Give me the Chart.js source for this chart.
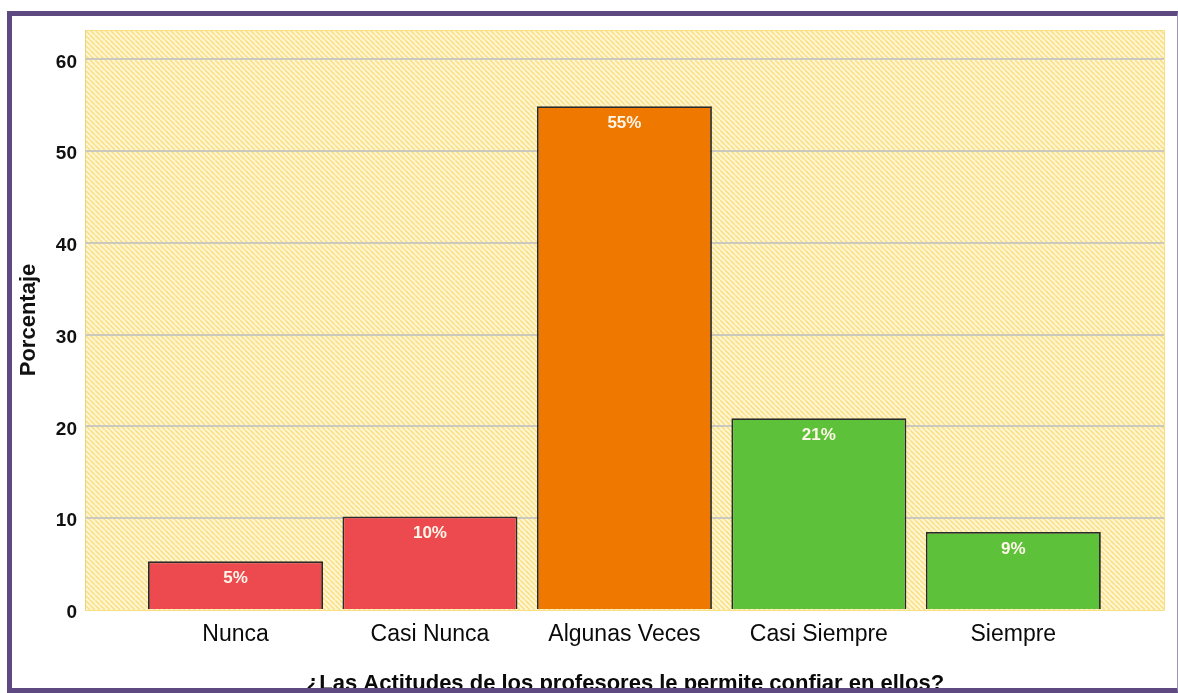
<!DOCTYPE html>
<html>
<head>
<meta charset="utf-8">
<script src="https://cdn.jsdelivr.net/npm/chart.js@4.4.0/dist/chart.umd.min.js"></script>
<style>
  body { margin: 0; background: #fff; }
  #wrap { position: relative; width: 1178px; height: 693px; overflow: hidden; }
  #frame { position: absolute; left: 7px; top: 11px; width: 1165px; height: 672px;
           border-left: 5px solid #5E4A80; border-top: 5px solid #5E4A80;
           border-bottom: 5px solid #5E4A80; border-right: 1px solid #9C93B0; pointer-events: none; }
  canvas { position: absolute; left: 0; top: 0; }
</style>
</head>
<body>
<div id="wrap">
  <canvas id="myChart" width="1178" height="693"></canvas>
  <div id="frame"></div>
</div>
<script>
var categories = ["Nunca", "Casi Nunca", "Algunas Veces", "Casi Siempre", "Siempre"];
var percentages = [5.3, 10.2, 54.9, 20.9, 8.5];
var valueLabels = ["5%", "10%", "55%", "21%", "9%"];
var barColors = ["#EC4A4F", "#EC4A4F", "#EE7800", "#5DC23A", "#5DC23A"];
var yTicks = [0, 10, 20, 30, 40, 50, 60];

var sans = "'Liberation Sans', Arial, sans-serif";

// hatched yellow background of the plot
function makeHatch() {
    var s = 5;
    var c = document.createElement("canvas");
    c.width = s; c.height = s;
    var g = c.getContext("2d");
    g.fillStyle = "#FFF7D6";
    g.fillRect(0, 0, s, s);
    g.strokeStyle = "#FBE08A";
    g.lineWidth = 1.7;
    for (var i = -1; i <= 1; i++) {
        g.beginPath();
        g.moveTo(i * s, 0);
        g.lineTo(i * s + s, s);
        g.stroke();
    }
    return g.createPattern(c, "repeat");
}

const hatchBg = {
    id: "hatchBg",
    beforeDraw(chart) {
        const a = chart.chartArea, ctx = chart.ctx;
        ctx.save();
        ctx.fillStyle = makeHatch();
        ctx.fillRect(a.left, a.top, a.right - a.left, a.bottom - a.top);
        ctx.restore();
    },
    afterDraw(chart) {
        const a = chart.chartArea, ctx = chart.ctx;
        ctx.save();
        ctx.strokeStyle = "#F8DF80";
        ctx.lineWidth = 1;
        ctx.beginPath();
        ctx.moveTo(a.left, a.top + 0.5);
        ctx.lineTo(a.right - 0.5, a.top + 0.5);
        ctx.lineTo(a.right - 0.5, a.bottom + 0.5);
        ctx.lineTo(a.left, a.bottom + 0.5);
        ctx.stroke();
        ctx.strokeStyle = "#E2D290";
        ctx.beginPath();
        ctx.moveTo(a.left + 0.5, a.top);
        ctx.lineTo(a.left + 0.5, a.bottom);
        ctx.stroke();
        ctx.restore();
    }
};

const barLabels = {
    id: "barLabels",
    afterDatasetsDraw(chart) {
        const ctx = chart.ctx;
        const meta = chart.getDatasetMeta(0);
        ctx.save();
        ctx.fillStyle = "#FFF6EA";
        ctx.font = "bold 17px " + sans;
        ctx.textAlign = "center";
        ctx.textBaseline = "middle";
        meta.data.forEach(function (bar, i) {
            ctx.fillText(valueLabels[i], bar.x, bar.y + 17);
        });
        ctx.restore();
    }
};

const data = {
    datasets: [{
        data: percentages.map(function (v, i) { return { x: i, y: v }; }),
        backgroundColor: barColors,
        borderColor: "#2A2A2A",
        borderWidth: 1.8,
        borderSkipped: "bottom",
        barPercentage: 0.9,
        categoryPercentage: 1
    }]
};

const config = {
    type: "bar",
    data: data,
    plugins: [hatchBg, barLabels],
    options: {
        responsive: false,
        animation: false,
        layout: { padding: { left: 14, right: 13, top: 30, bottom: -4 } },
        plugins: { legend: { display: false }, tooltip: { enabled: false } },
        scales: {
            x: {
                type: "linear",
                offset: false,
                min: -0.774,
                max: 4.78,
                grid: { display: false, drawTicks: false },
                border: { display: false },
                ticks: {
                    stepSize: 1,
                    includeBounds: false,
                    autoSkip: false,
                    maxRotation: 0,
                    padding: 11,
                    color: "#0A0A0A",
                    font: { family: sans, size: 23 },
                    callback: function (v) { return categories[v]; }
                },
                title: {
                    display: true,
                    text: "¿Las Actitudes de los profesores le permite confiar en ellos?",
                    color: "#0A0A0A",
                    font: { family: sans, size: 22, weight: "bold" },
                    padding: { top: 0, bottom: 0 }
                },
                afterFit: function (s) { s.height = 87; }
            },
            y: {
                min: 0,
                max: 63.2,
                afterBuildTicks: function (s) { s.ticks = yTicks.map(function (v) { return { value: v }; }); },
                grid: {
                    drawTicks: false,
                    lineWidth: 2,
                    color: function (c) { return c.tick && c.tick.value === 0 ? "rgba(0,0,0,0)" : "#CBC8BE"; }
                },
                border: { display: false },
                ticks: {
                    padding: 8,
                    labelOffset: 3,
                    color: "#111",
                    font: { family: sans, size: 19, weight: "bold" }
                },
                title: {
                    display: true,
                    text: "Porcentaje",
                    color: "#111",
                    font: { family: sans, size: 22, weight: "bold" },
                    padding: { top: 2, bottom: 0 }
                },
                afterFit: function (s) { s.width = 71; }
            }
        }
    }
};

const myChart = new Chart(document.getElementById("myChart"), config);
</script>
</body>
</html>
